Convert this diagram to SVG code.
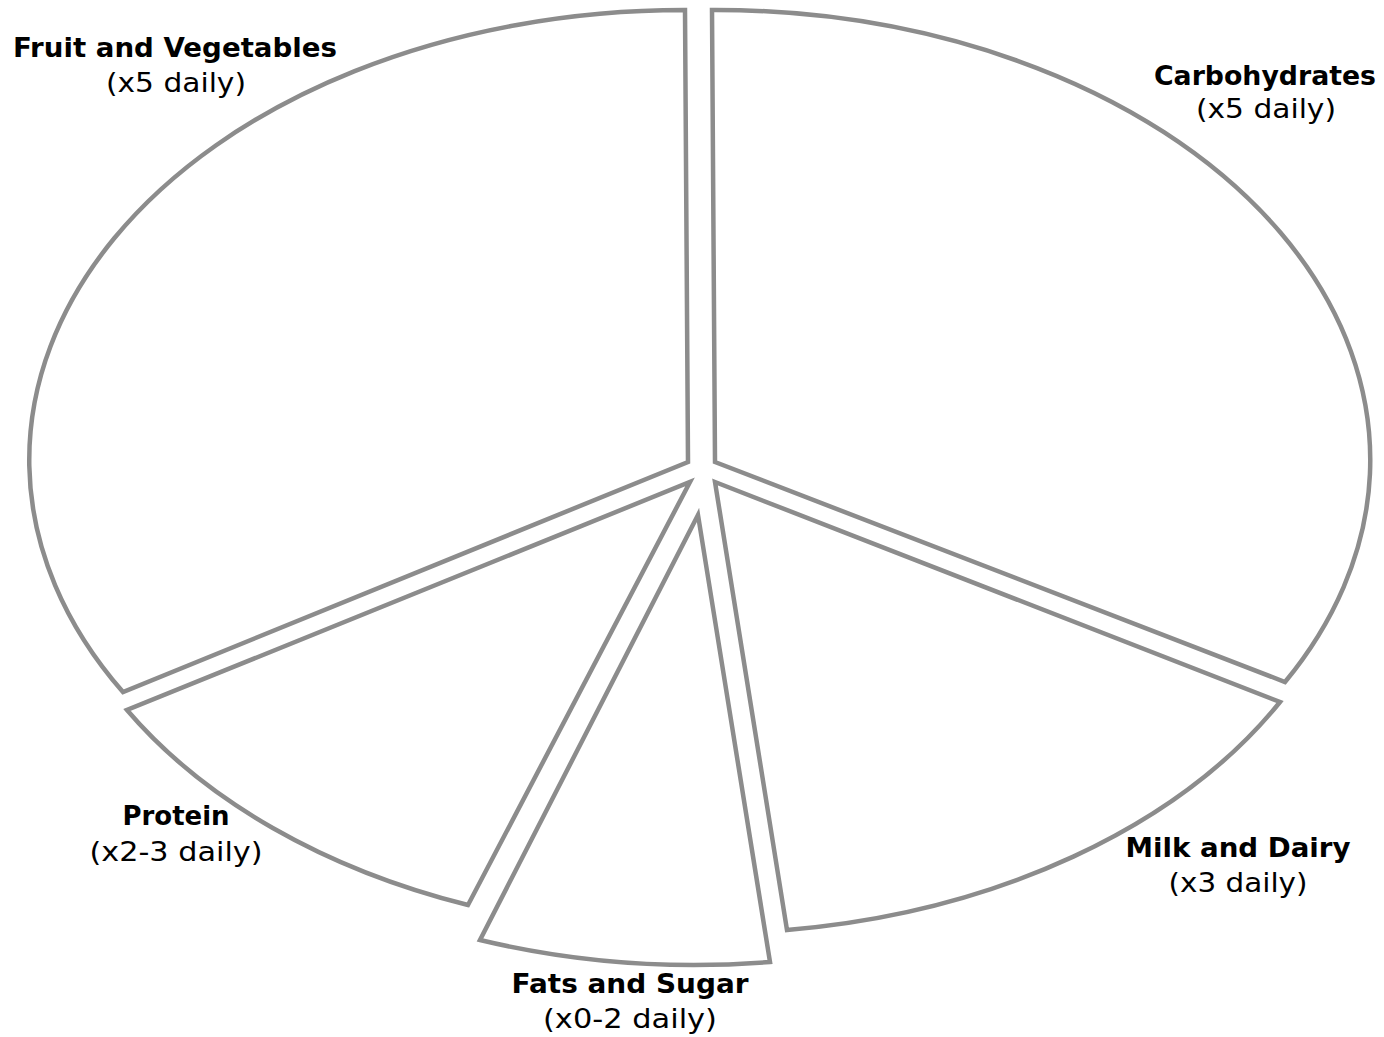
<svg xmlns="http://www.w3.org/2000/svg" width="1384" height="1037" viewBox="0 0 1384 1037">
<style>
.slice{fill:#ffffff;stroke:#8c8c8c;stroke-width:4.5;stroke-linejoin:miter}
.t{font-family:"DejaVu Sans","Liberation Sans",sans-serif;fill:#000;text-anchor:middle}
.b{font-weight:bold;font-size:26px}
.r{font-size:27px}
</style>
<rect width="1384" height="1037" fill="#ffffff"/>
<g id="fruit">
<path class="slice" d="M685,10 L688,462 L123,692 A655,450 0 0 1 685,10 Z"/>
<text class="t b" x="175" y="57" textLength="324" lengthAdjust="spacingAndGlyphs">Fruit and Vegetables</text>
<text class="t r" x="176" y="92" textLength="140" lengthAdjust="spacingAndGlyphs">(x5 daily)</text>
</g>
<g id="carbohydrates">
<path class="slice" d="M712,10 A655,450 0 0 1 1285,682 L715,462 Z"/>
<text class="t b" x="1265" y="85" textLength="222" lengthAdjust="spacingAndGlyphs">Carbohydrates</text>
<text class="t r" x="1266" y="118" textLength="140" lengthAdjust="spacingAndGlyphs">(x5 daily)</text>
</g>
<g id="milk">
<path class="slice" d="M715,482 L1280,702 A655,450 0 0 1 787,930 Z"/>
<text class="t b" x="1238" y="857" textLength="225" lengthAdjust="spacingAndGlyphs">Milk and Dairy</text>
<text class="t r" x="1238" y="892" textLength="139" lengthAdjust="spacingAndGlyphs">(x3 daily)</text>
</g>
<g id="fats">
<path class="slice" d="M698,515 L770,962 A655,450 0 0 1 480,940 Z"/>
<text class="t b" x="630" y="993" textLength="237" lengthAdjust="spacingAndGlyphs">Fats and Sugar</text>
<text class="t r" x="630" y="1028" textLength="174" lengthAdjust="spacingAndGlyphs">(x0-2 daily)</text>
</g>
<g id="protein">
<path class="slice" d="M690,482 L468,905 A655,450 0 0 1 127,710 Z"/>
<text class="t b" x="176" y="825" textLength="107" lengthAdjust="spacingAndGlyphs">Protein</text>
<text class="t r" x="176" y="861" textLength="173" lengthAdjust="spacingAndGlyphs">(x2-3 daily)</text>
</g>
<g id="connectors"></g>
</svg>
